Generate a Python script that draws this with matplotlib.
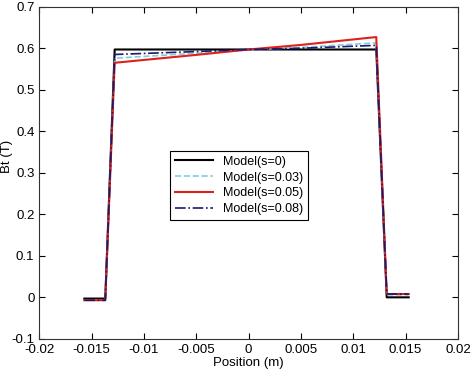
import numpy as np
import matplotlib
matplotlib.use("Agg")
import matplotlib.pyplot as plt

plt.rcParams['font.family'] = ['Liberation Sans', 'DejaVu Sans']

# positions (m) of the profile corners
x_pos = [-0.0157, -0.0137, -0.0128, -0.005, 0.0, 0.005, 0.0122, 0.0132, 0.0153]

# Bt (T) for each model
bt_s0 = [-0.003, -0.003, 0.597, 0.597, 0.597, 0.597, 0.597, 0.0, 0.0]
bt_s003 = [-0.006, -0.006, 0.576, 0.588, 0.596, 0.602, 0.613, 0.006, 0.006]
bt_s005 = [-0.007, -0.007, 0.565, 0.584, 0.597, 0.608, 0.627, 0.008, 0.008]
bt_s008 = [-0.007, -0.007, 0.585, 0.592, 0.597, 0.600, 0.607, 0.008, 0.008]

labels = ['Model(s=0)', 'Model(s=0.03)', 'Model(s=0.05)', 'Model(s=0.08)']

fig = plt.figure(figsize=(4.74, 3.74), dpi=100)
ax = fig.add_axes([0.083, 0.094, 0.883, 0.888])

ax.plot(x_pos, bt_s0, color='black', lw=1.5, label=labels[0])
ax.plot(x_pos, bt_s003, color='#7fd0dc', lw=1.2, ls='--', label=labels[1])
ax.plot(x_pos, bt_s005, color='#e0201b', lw=1.5, label=labels[2])
ax.plot(x_pos, bt_s008, color='#1a1a6e', lw=1.2, ls='-.', label=labels[3])

ax.set_xlim(-0.02, 0.02)
ax.set_ylim(-0.1, 0.7)
ax.set_xticks(np.arange(-0.02, 0.0201, 0.005))
ax.set_xticklabels(['-0.02', '-0.015', '-0.01', '-0.005', '0', '0.005', '0.01', '0.015', '0.02'])
ax.set_yticks(np.arange(-0.1, 0.701, 0.1))
ax.set_yticklabels(['-0.1', '0', '0.1', '0.2', '0.3', '0.4', '0.5', '0.6', '0.7'])
ax.tick_params(direction='in', labelsize=9.5, length=4, top=True, right=True)
for s in ax.spines.values():
    s.set_linewidth(0.8)
    s.set_color('#333333')

ax.set_xlabel('Position (m)', fontsize=9.5, labelpad=1)
ax.set_ylabel('Bt (T)', fontsize=9.5, va='center')
ax.yaxis.set_label_coords(-0.078, 0.548)

leg = ax.legend(loc='center', bbox_to_anchor=(0.477, 0.462), fontsize=9,
                fancybox=False, edgecolor='black', framealpha=1,
                handlelength=3, borderpad=0.4, labelspacing=0.3)
leg.get_frame().set_linewidth(0.8)

fig.savefig('out.png', dpi=100)
